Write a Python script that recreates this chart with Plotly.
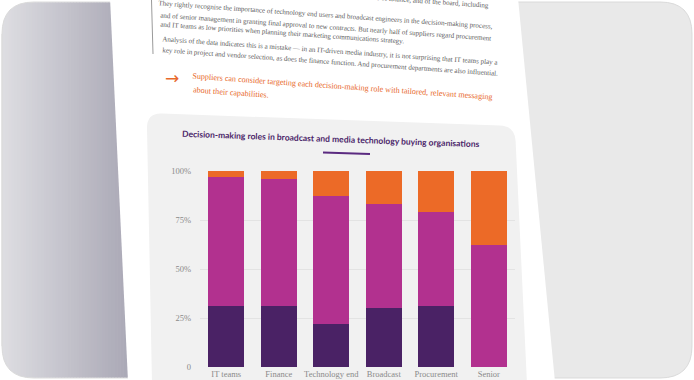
import plotly.graph_objects as go

# ---------------- data ----------------
categories = ["IT teams", "Finance", "Technology end<br>users", "Broadcast<br>engineers",
              "Procurement", "Senior<br>management /<br>board"]
decision_maker = [31, 31, 22, 30, 31, 0]
influencer = [66, 65, 65, 53, 48, 62]
not_involved = [3, 4, 13, 17, 21, 38]
series_names = ["Decision-maker", "Influencer", "Not involved"]
series_colors = ["#4a2265", "#b2318f", "#ec6a27"]
y_tickvals = [0, 25, 50, 75, 100]
y_ticktext = ["0", "25%", "50%", "75%", "100%"]

chart_title = "Decision-making roles in broadcast and media technology buying organisations"
body_lines = [
    "most suppliers rightly recognise the role of finance, and of the board, including",
    "They rightly recognise the importance of technology end users and broadcast engineers in the decision-making process,",
    "and of senior management in granting final approval to new contracts. But nearly half of suppliers regard procurement",
    "and IT teams as low priorities when planning their marketing communications strategy.",
    "Analysis of the data indicates this is a mistake \u2014 in an IT-driven media industry, it is not surprising that IT teams play a",
    "key role in project and vendor selection, as does the finance function. And procurement departments are also influential.",
]
callout_lines = [
    "Suppliers can consider targeting each decision-making role with tailored, relevant messaging",
    "about their capabilities.",
]

W, H = 694, 380
ML, MR, MT, MB = 200, 179, 171, 13
PW, PH = W - ML - MR, H - MT - MB


def X(x):
    return (x - ML) / PW


def Y(y):
    return (H - MB - y) / PH


def path(points_cmds):
    out = []
    for item in points_cmds:
        if isinstance(item, str):
            out.append(item)
        else:
            out.append(f"{X(item[0]):.5f},{Y(item[1]):.5f}")
    return " ".join(out)


fig = go.Figure()
for name, vals, col in zip(series_names, [decision_maker, influencer, not_involved], series_colors):
    fig.add_trace(go.Bar(x=categories, y=vals, name=name, marker=dict(color=col, line=dict(width=0)),
                         showlegend=False))

shapes = []
# card background
x0, y0, x1, y1, r = 2, 2, 692, 378, 32
card = path(["M", (x0 + r, y0), "L", (x1 - r, y0), "Q", (x1, y0), (x1, y0 + r), "L", (x1, y1 - r),
             "Q", (x1, y1), (x1 - r, y1), "L", (x0 + r, y1), "Q", (x0, y1), (x0, y1 - r),
             "L", (x0, y0 + r), "Q", (x0, y0), (x0 + r, y0), "Z"])
shapes.append(dict(type="path", path=card, xref="paper", yref="paper", fillcolor="#e9e9e9",
                   line=dict(color="#dadada", width=1), layer="below"))
# left gradient stripes
c_left = (0xdd, 0xdd, 0xe1)
c_right = (0xa9, 0xa7, 0xb5)
n = 44
xs, xe = 2.5, 132
for i in range(n):
    t = i / (n - 1)
    c = tuple(int(round(c_left[k] + (c_right[k] - c_left[k]) * t)) for k in range(3))
    a = xs + (xe - xs) * i / n
    b = xs + (xe - xs) * (i + 1) / n + 0.6
    shapes.append(dict(type="rect", xref="paper", yref="paper", x0=X(a), x1=X(b), y0=Y(377.5), y1=Y(2.5),
                       fillcolor="rgb(%d,%d,%d)" % c, line=dict(width=0), layer="below"))
# corner masks
tl = path(["M", (-2, -2), "L", (x0 + r, -2), "L", (x0 + r, y0), "Q", (x0, y0), (x0, y0 + r), "L", (-2, y0 + r), "Z"])
bl = path(["M", (-2, H + 2), "L", (x0 + r, H + 2), "L", (x0 + r, y1), "Q", (x0, y1), (x0, y1 - r), "L", (-2, y1 - r), "Z"])
for p in (tl, bl):
    shapes.append(dict(type="path", path=p, xref="paper", yref="paper", fillcolor="#ffffff",
                       line=dict(width=0), layer="below"))
shapes.append(dict(type="path", xref="paper", yref="paper", line=dict(color="#dadada", width=1), layer="below",
                   path=path(["M", (x0 + r, y0), "Q", (x0, y0), (x0, y0 + r), "L", (x0, y1 - r),
                              "Q", (x0, y1), (x0 + r, y1)])))
# page
page = path(["M", (110, -2), "L", (518, -2), "L", (555, H + 2), "L", (128, H + 2), "Z"])
shapes.append(dict(type="path", path=page, xref="paper", yref="paper", fillcolor="#ffffff",
                   line=dict(width=0), layer="below"))
# quote bar
shapes.append(dict(type="line", xref="paper", yref="paper", x0=X(151.5), x1=X(153), y0=Y(0), y1=Y(54),
                   line=dict(color="#9a9a9a", width=1), layer="below"))
# chart panel
panel = path(["M", (147, 128), "Q", (147, 113), (162, 113.6), "L", (500, 125.4), "Q", (515, 126), (515.6, 141),
              "L", (527, H + 4), "L", (152, H + 4), "Z"])
shapes.append(dict(type="path", path=panel, xref="paper", yref="paper", fillcolor="#f1f1f1",
                   line=dict(width=0), layer="below"))
# title underline
shapes.append(dict(type="line", xref="paper", yref="paper", x0=X(323), x1=X(370), y0=Y(152.5), y1=Y(154),
                   line=dict(color="#5b2b80", width=2), layer="above"))

annotations = []
body_pos = [(265, -16), (156, -3), (158, 9), (158, 18), (160, 33), (160, 44)]
for txt, (bx, by) in zip(body_lines, body_pos):
    annotations.append(dict(text=txt, x=X(bx), y=Y(by), xref="paper", yref="paper", xanchor="left",
                            yanchor="top", showarrow=False, textangle=4,
                            font=dict(family="Liberation Serif", size=7, color="#5e5e5e")))
annotations.append(dict(text="\u2192", x=X(163), y=Y(66), xref="paper", yref="paper", xanchor="left",
                        yanchor="top", showarrow=False,
                        font=dict(family="DejaVu Sans", size=17, color="#e8692c")))
for txt, (bx, by) in zip(callout_lines, [(190, 69), (191, 83)]):
    annotations.append(dict(text=txt, x=X(bx), y=Y(by), xref="paper", yref="paper", xanchor="left",
                            yanchor="top", showarrow=False, textangle=4,
                            font=dict(family="Liberation Serif", size=8.1, color="#e8692c")))
annotations.append(dict(text="<b>" + chart_title + "</b>", x=X(180), y=Y(127), xref="paper", yref="paper",
                        xanchor="left", yanchor="top", showarrow=False, textangle=2,
                        font=dict(family="Lato", size=8.5, color="#4a2468")))

fig.update_layout(
    width=W, height=H, barmode="stack", bargap=0.32,
    margin=dict(l=ML, r=MR, t=MT, b=MB, autoexpand=False),
    paper_bgcolor="#ffffff", plot_bgcolor="rgba(0,0,0,0)",
    shapes=shapes, annotations=annotations,
    xaxis=dict(showgrid=False, zeroline=False, showline=False, ticks="", automargin=False,
               tickfont=dict(family="Liberation Serif", size=8.5, color="#8a8a8a")),
    yaxis=dict(range=[0, 100], tickvals=y_tickvals, ticktext=y_ticktext, showgrid=True,
               gridcolor="#e3e3e3", gridwidth=1, zeroline=False, showline=False, ticks="",
               ticklabelstandoff=8, automargin=False,
               tickfont=dict(family="Liberation Serif", size=8.5, color="#8a8a8a")),
)
fig.write_html("out.html", config={"displayModeBar": False},
               post_script="document.body.style.margin='0';document.body.style.padding='0';")
